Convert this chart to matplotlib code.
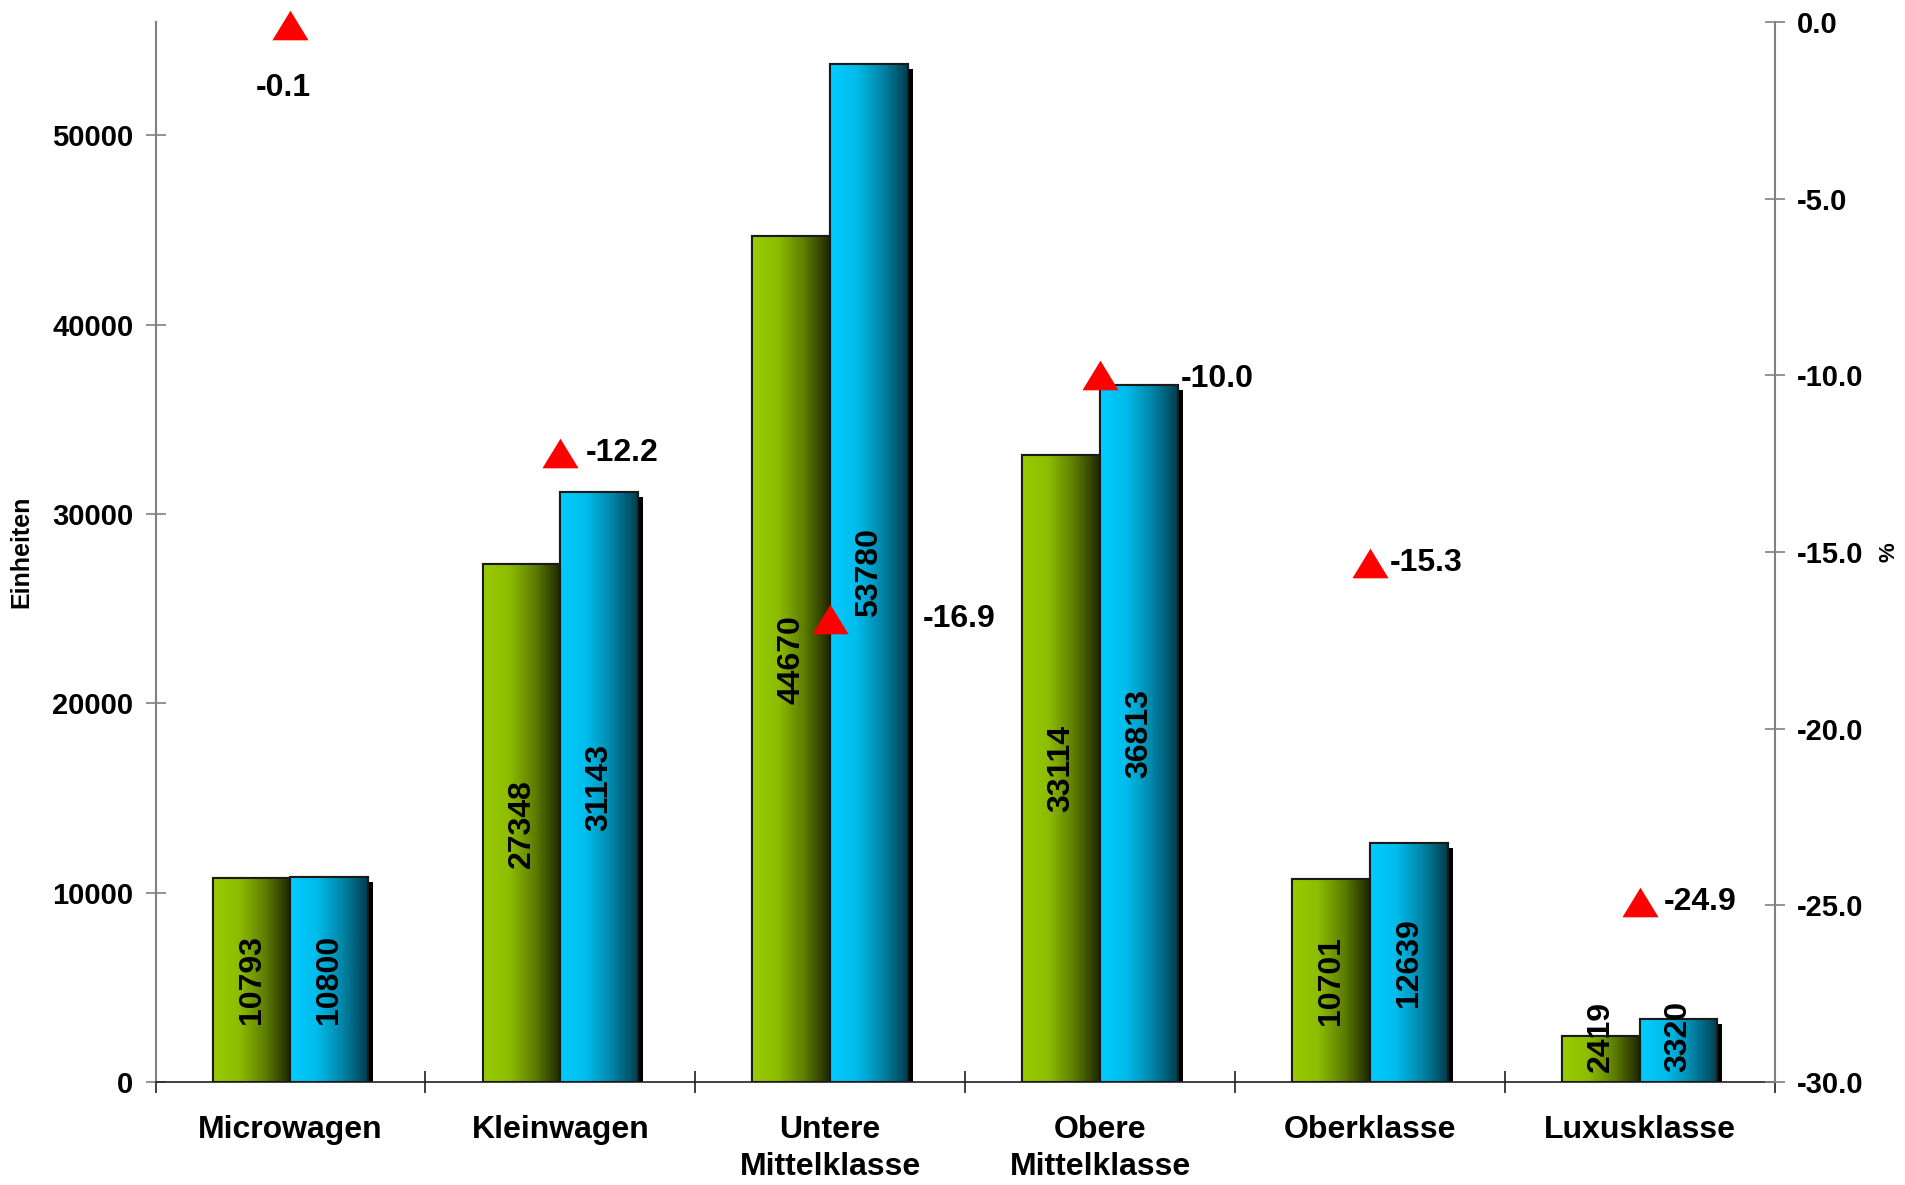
import numpy as np
import matplotlib
matplotlib.use("Agg")
import matplotlib.pyplot as plt
import matplotlib.patheffects as pe
from matplotlib.colors import LinearSegmentedColormap

plt.rcParams['font.family'] = ['Liberation Sans', 'DejaVu Sans']
plt.rcParams['font.weight'] = 'bold'
plt.rcParams['axes.labelweight'] = 'bold'
plt.rcParams['axes.unicode_minus'] = False

# --- data ---
categories = ["Microwagen", "Kleinwagen", "Untere\nMittelklasse",
              "Obere\nMittelklasse", "Oberklasse", "Luxusklasse"]
units_green = [10793, 27348, 44670, 33114, 10701, 2419]
units_blue = [10800, 31143, 53780, 36813, 12639, 3320]
change_pct = [-0.1, -12.2, -16.9, -10.0, -15.3, -24.9]

# where the % labels sit next to their triangle (points)
pct_offsets = [(-5, -45), (18, 0), (67, 0), (58, -3), (14, 0), (17, 0)]

green_cmap = LinearSegmentedColormap.from_list("g", ["#99CC00", "#8DBD00", "#5E7E00", "#1E2600"])
blue_cmap = LinearSegmentedColormap.from_list("b", ["#00CCFF", "#00BDEC", "#0086A8", "#003E50"])

fig = plt.figure(figsize=(19.06, 11.85), dpi=100)
ax = fig.add_axes([0.0816, 0.087, 0.8495, 0.8945])

x = np.arange(len(categories))
w = 0.288
shadow = [pe.SimplePatchShadow(offset=(3.6, -3.6), shadow_rgbFace="black", alpha=1.0), pe.Normal()]

grad = np.linspace(0, 1, 256).reshape(1, -1)
for vals, off, cmap, base in [(units_green, -w / 2, green_cmap, "#99CC00"),
                              (units_blue, w / 2, blue_cmap, "#00CCFF")]:
    bars = ax.bar(x + off, vals, w, color=base, edgecolor="#1a1a1a", linewidth=1.5,
                  zorder=2, path_effects=shadow)
    for b in bars:
        bx, bw, bh = b.get_x(), b.get_width(), b.get_height()
        ax.imshow(grad, extent=(bx, bx + bw, 0, bh), aspect="auto", cmap=cmap,
                  interpolation="bicubic", zorder=2.5)
    ax.bar(x + off, vals, w, fill=False, edgecolor="#1a1a1a", linewidth=1.5, zorder=3)
    for xi, v in zip(x + off, vals):
        if v < 6000:
            ax.text(xi, 500, str(v), rotation=90, ha="center", va="bottom",
                    fontsize=23, zorder=5)
        else:
            ax.text(xi, v / 2, str(v), rotation=90, ha="center", va="center",
                    fontsize=23, zorder=5)

ax.set_xlim(-0.5, len(categories) - 0.5)
ax.set_ylim(0, 56000)
ax.set_yticks(range(0, 50001, 10000))
ax.tick_params(axis="y", direction="inout", length=14, pad=9, labelsize=21,
               color="#808080", width=1.2)

ax.set_xticks(x)
ax.set_xticklabels(categories, fontsize=23)
for lab in ax.get_xticklabels():
    lab.set_linespacing(1.3)
ax.tick_params(axis="x", which="major", length=0, pad=24)
ax.set_xticks(np.arange(-0.5, len(categories), 1), minor=True)
ax.tick_params(axis="x", which="minor", direction="inout", length=16,
               color="#202020", width=1.2)

ax.spines["top"].set_visible(False)
ax.spines["right"].set_visible(False)
ax.spines["left"].set_color("#808080")
ax.spines["left"].set_linewidth(1.5)
ax.spines["bottom"].set_color("#202020")
ax.spines["bottom"].set_linewidth(1.2)

ax.set_ylabel("Einheiten", fontsize=18)
ax.yaxis.set_label_coords(-0.0755, 0.5)

# right axis: change in %
ax2 = ax.twinx()
tri = [(-1, -0.82), (1, -0.82), (0, 0.82)]
ax2.plot(x, change_pct, linestyle="none", marker=tri, markersize=26,
         color="#FF0000", markeredgewidth=0, zorder=4, clip_on=False)
ax2.set_ylim(-30, 0)
ax2.set_yticks(np.arange(-30, 0.1, 5))
ax2.yaxis.set_major_formatter("{x:.1f}")
ax2.tick_params(axis="y", direction="inout", length=14, pad=9, labelsize=21,
                color="#808080", width=1.2)
for s in ["top", "left", "bottom"]:
    ax2.spines[s].set_visible(False)
ax2.spines["right"].set_color("#808080")
ax2.spines["right"].set_linewidth(1.5)
ax2.set_ylabel("%", fontsize=16, rotation=90)
ax2.yaxis.set_label_coords(1.064, 0.5)

for xi, p, off in zip(x, change_pct, pct_offsets):
    ha = "center" if off[0] < 0 else "left"
    ax2.annotate(f"{p:.1f}", xy=(xi, p), xytext=off, textcoords="offset points",
                 ha=ha, va="center", fontsize=23, zorder=6)

fig.savefig("out.png", dpi=100)
